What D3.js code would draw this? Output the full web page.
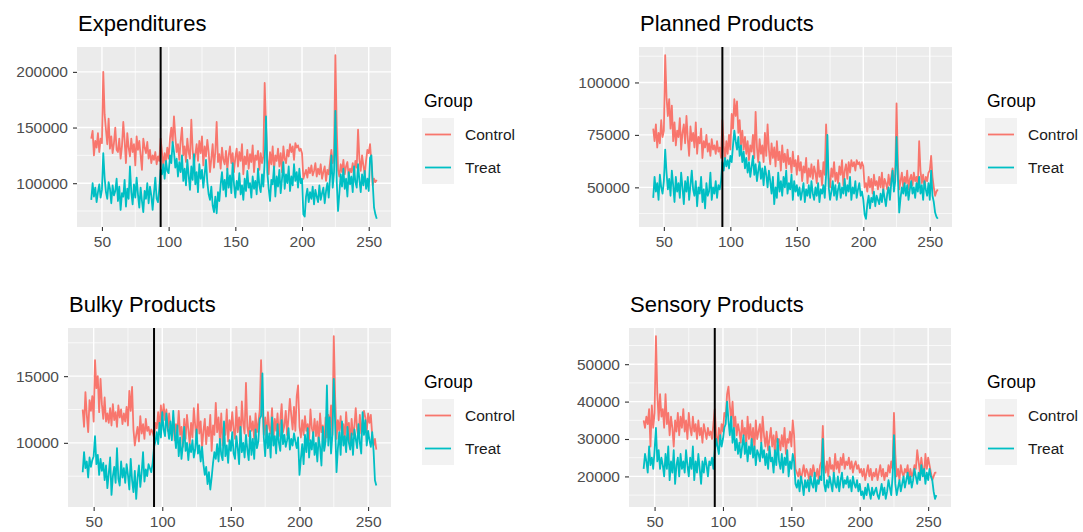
<!DOCTYPE html>
<html>
<head>
<meta charset="utf-8">
<script src="https://cdn.jsdelivr.net/npm/d3@7"></script>
<style>
    body { margin: 0; background: #fff; }
    svg text { font-family: "Liberation Sans", Arial, Helvetica, sans-serif; }
</style>
</head>
<body>
<div id="chart"></div>
<script>
// days shown on the x axis (first and last day of the series)
const firstDay = 42;
const lastDay = 256;
const interventionDay = 94;
const groups = ['Control', 'Treat'];
const groupColors = ['#F8766D', '#00BFC4'];
const xTicks = [50, 100, 150, 200, 250];

// values in thousands, one per day from day 42 to day 256
const expControl = [
    140, 147, 125, 138, 132, 145, 128, 140, 136, 200,
    162, 148, 135, 158, 131, 142, 127, 136, 150, 130,
    128, 140, 122, 133, 155, 138, 118, 145, 132, 124,
    140, 128, 135, 116, 142, 130, 138, 125, 112, 140,
    132, 127, 137, 122, 130, 118, 125, 121, 128, 117,
    124, 120, 140, 128, 115, 127, 119, 132, 122, 140,
    150, 136, 160, 142, 128, 135, 121, 138, 150, 125,
    133, 119, 140, 128, 122, 157, 130, 117, 126, 135,
    120, 138, 127, 142, 116, 133, 124, 139, 128, 110,
    122, 135, 114, 128, 155, 119, 126, 113, 132, 121,
    117, 129, 112, 125, 133, 118, 127, 110, 123, 131,
    115, 128, 120, 135, 108, 124, 117, 130, 113, 126,
    119, 134, 110, 125, 121, 129, 112, 127, 118, 124,
    190, 150, 122, 108, 128, 117, 133, 112, 125, 120,
    131, 115, 127, 110, 133, 122, 118, 130, 124, 135,
    128, 133, 121, 136, 132, 134, 129, 131, 127, 104,
    108, 112, 105, 114, 109, 116, 107, 111, 118, 106,
    113, 108, 117, 104, 110, 115, 102, 112, 108, 119,
    130, 118, 125, 215, 150, 112, 106, 117, 110, 121,
    108, 115, 119, 106, 113, 110, 118, 107, 120, 114,
    148, 122, 111, 125, 116, 108, 120, 130, 127, 135,
    118, 98, 104, 101, 103
];
const expTreat = [
    85, 100, 88, 96, 83, 92, 99, 87, 94, 127,
    105, 92, 86, 101, 95, 82, 98, 89, 93, 104,
    84, 97, 76, 91, 88, 103, 79, 95, 86, 115,
    92, 81, 99, 87, 105, 90, 78, 96, 84, 74,
    93, 86, 100, 82, 97, 89, 76, 91, 105, 86,
    83, 95, 112, 108, 117, 104, 120, 111, 109, 125,
    118, 137, 128, 114, 122, 106, 119, 110, 125, 102,
    113, 98, 121, 107, 94, 115, 103, 126, 99, 110,
    92, 117, 104, 112, 96, 108, 121, 101, 90, 85,
    97, 80, 74, 88, 73, 92, 84, 99, 110, 94,
    103, 88, 113, 96, 107, 91, 118, 99, 87, 102,
    94, 109, 90, 98, 85, 104, 93, 111, 96, 100,
    87, 106, 95, 102, 90, 113, 98, 92, 108, 97,
    120, 160, 110, 95, 84, 103, 99, 115, 88, 106,
    97, 112, 91, 104, 119, 95, 108, 100, 115, 93,
    106, 98, 117, 102, 110, 96, 113, 100, 104, 72,
    70, 88, 95, 83, 92, 86, 97, 81, 94, 88,
    83, 98, 85, 91, 96, 82, 93, 100, 87, 105,
    125, 96, 110, 165, 102, 75, 91, 108, 97, 113,
    95, 104, 88, 110, 99, 106, 92, 115, 101, 96,
    117, 103, 92, 108, 98, 111, 95, 104, 93, 123,
    125, 100, 78, 72, 68
];

const planControl = [
    78, 72, 80, 69, 76, 71, 82, 74, 77, 113,
    93, 84, 92, 78, 89, 72, 81, 70, 77, 74,
    83, 68, 76, 80, 71, 84, 73, 65, 79, 72,
    76, 69, 81, 66, 74, 71, 78, 64, 72, 69,
    75, 67, 71, 65, 73, 68, 70, 66, 72, 67,
    69, 64, 82, 70, 63, 72, 66, 75, 68, 85,
    78, 92, 84, 91, 76, 82, 70, 77, 68, 74,
    66, 72, 63, 70, 67, 75, 64, 86, 69, 62,
    73, 66, 70, 62, 76, 65, 80, 68, 61, 71,
    64, 69, 60, 72, 63, 67, 58, 70, 62, 66,
    59, 68, 61, 64, 57, 67, 60, 63, 56, 65,
    58, 62, 53, 60, 57, 64, 52, 59, 55, 61,
    54, 60, 57, 52, 63, 55, 58, 51, 62, 56,
    80, 65, 54, 50, 59, 55, 62, 53, 57, 52,
    60, 56, 63, 51, 58, 61, 54, 62, 57, 63,
    60, 62, 58, 63, 61, 62, 59, 62, 60, 50,
    52, 48, 55, 50, 54, 47, 56, 51, 53, 49,
    55, 50, 57, 48, 54, 52, 49, 56, 51, 55,
    59, 53, 56, 90, 62, 49, 53, 57, 50, 55,
    52, 58, 49, 54, 56, 51, 57, 53, 55, 50,
    72, 58, 52, 56, 50, 55, 53, 57, 58, 65,
    55, 50, 46, 48, 49
];
const planTreat = [
    45, 55, 48, 52, 44, 56, 50, 47, 53, 68,
    57, 49, 54, 46, 58, 51, 43, 55, 48, 52,
    45, 57, 50, 42, 53, 48, 55, 44, 51, 58,
    49, 46, 53, 41, 50, 47, 55, 43, 49, 40,
    52, 46, 48, 57, 44, 50, 47, 53, 45, 51,
    49, 53, 62, 58, 64, 60, 63, 59, 65, 62,
    70, 77, 72, 68, 74, 65, 70, 62, 67, 59,
    64, 57, 62, 55, 60, 65, 56, 61, 53, 58,
    62, 54, 59, 51, 60, 56, 50, 58, 53, 47,
    55, 42, 50, 45, 57, 48, 53, 46, 55, 50,
    58, 47, 52, 49, 56, 44, 53, 48, 51, 46,
    50, 44, 48, 52, 43, 49, 46, 51, 45, 53,
    47, 44, 50, 46, 52, 43, 49, 47, 51, 45,
    56, 75, 50, 44, 48, 53, 46, 51, 44, 49,
    52, 45, 50, 47, 54, 46, 51, 48, 55, 44,
    50, 47, 53, 45, 49, 52, 46, 48, 44, 37,
    35, 42, 46, 40, 45, 43, 48, 41, 46, 44,
    42, 47, 43, 49, 45, 41, 47, 50, 44, 52,
    58, 48, 53, 74, 55, 38, 45, 50, 47, 52,
    46, 51, 44, 49, 53, 47, 50, 45, 52, 48,
    55, 47, 51, 44, 53, 49, 46, 52, 44, 58,
    46, 43, 38, 36, 35
];

const bulkyControl = [
    12.5, 11.2, 13.8, 12.1, 10.8, 13.2, 12.4, 13.5, 11.6, 16.2,
    14.1, 15.0, 12.3, 14.8, 12.9, 11.8, 13.4, 11.6, 12.2, 11.5,
    12.6, 11.3, 12.9, 11.7, 12.3, 11.2, 12.8, 11.9, 12.5, 11.4,
    12.2, 11.6, 12.7, 11.3, 13.9, 12.4, 14.2, 11.0, 9.8, 10.6,
    11.2, 10.1, 12.0, 10.7, 11.4, 10.3, 11.8, 10.9, 11.2, 10.6,
    11.0, 10.8, 10.4, 11.5, 11.1, 12.3, 11.0, 12.8, 11.6, 12.9,
    11.7, 12.5, 10.9, 12.2, 11.1, 10.5, 11.9, 10.2, 11.4, 10.8,
    12.4, 10.6, 11.2, 9.7, 11.8, 10.3, 12.1, 11.0, 9.9, 11.5,
    10.4, 12.6, 11.3, 10.1, 12.9, 10.7, 11.6, 9.6, 10.9, 11.8,
    9.9, 11.2, 10.5, 12.1, 9.4, 11.3, 10.6, 13.0, 10.8, 11.9,
    10.2, 12.2, 9.8, 11.4, 10.6, 12.5, 10.1, 11.7, 10.9, 12.3,
    11.0, 10.3, 12.7, 10.8, 11.9, 10.2, 13.1, 11.4, 10.7, 14.5,
    11.2, 10.5, 12.0, 10.9, 11.6, 10.3, 12.2, 10.8, 11.5, 12.4,
    16.2, 12.8, 10.6, 11.9, 10.4, 12.3, 11.1, 10.7, 12.6, 10.2,
    11.8, 10.9, 12.2, 10.5, 11.6, 12.9, 10.8, 11.3, 12.4, 10.6,
    11.9, 13.3, 12.1, 11.0, 12.7, 10.9, 13.5, 14.3, 11.2, 10.4,
    11.7, 10.6, 12.0, 10.9, 11.4, 10.2, 12.5, 11.1, 10.7, 11.8,
    10.5, 11.6, 9.9, 12.2, 10.8, 11.3, 9.6, 11.9, 10.4, 12.1,
    11.2, 12.8, 10.6, 18.0, 13.4, 10.3, 11.7, 10.9, 12.0, 10.5,
    11.4, 10.2, 12.3, 10.8, 11.5, 9.9, 11.8, 10.6, 11.2, 12.6,
    11.0, 10.4, 12.1, 10.7, 11.6, 12.4, 11.9, 10.8, 12.2, 11.5,
    12.1, 10.6, 9.8, 10.3, 9.5
];
const bulkyTreat = [
    7.8, 9.3, 8.1, 8.6, 7.4, 8.9, 8.2, 8.7, 9.0, 10.5,
    8.4, 9.1, 7.6, 8.8, 7.9, 8.5, 7.2, 8.3, 6.6, 7.7,
    8.9, 6.1, 7.5, 8.2, 7.0, 9.6, 7.3, 6.8, 8.6, 7.4,
    8.1, 7.0, 8.4, 7.6, 6.5, 8.8, 7.2, 6.3, 7.9, 5.8,
    7.4, 8.3, 6.7, 7.8, 9.3, 7.1, 8.0, 7.5, 8.4, 8.1,
    7.8, 8.5, 9.7, 10.1, 10.8, 9.9, 11.5, 10.4, 12.3, 11.0,
    10.5, 12.2, 11.1, 10.3, 11.6, 10.2, 12.4, 10.7, 9.6, 11.3,
    9.0, 10.4, 8.8, 9.8, 11.2, 9.4, 10.0, 8.7, 9.9, 9.3,
    10.2, 8.9, 9.5, 11.0, 9.2, 9.8, 8.6, 9.7, 8.4, 7.6,
    8.2, 6.9, 7.8, 6.5, 7.4, 8.5, 9.3, 8.8, 9.9, 8.6,
    10.3, 9.1, 8.7, 11.6, 9.0, 9.8, 8.5, 10.2, 9.4, 10.8,
    9.2, 8.8, 10.5, 9.6, 8.4, 11.2, 9.3, 10.0, 8.9, 10.6,
    9.5, 8.7, 10.9, 9.1, 10.3, 8.8, 11.0, 9.6, 10.1, 11.8,
    12.0, 15.2, 10.4, 9.0, 11.3, 9.6, 10.7, 8.9, 11.9, 9.8,
    10.5, 9.2, 11.4, 10.0, 9.4, 11.7, 9.9, 10.6, 9.7, 10.2,
    11.1, 9.5, 10.3, 9.8, 10.7, 10.1, 9.6, 10.4, 7.6, 8.8,
    9.9, 8.4, 10.6, 9.3, 11.1, 8.9, 10.2, 9.5, 10.8, 9.1,
    10.0, 8.6, 10.4, 9.7, 8.3, 11.2, 9.4, 10.1, 14.3, 9.8,
    11.9, 9.2, 10.6, 14.8, 11.4, 7.8, 9.6, 10.8, 9.1, 11.6,
    9.8, 10.5, 9.3, 11.2, 10.0, 9.5, 10.7, 9.1, 11.0, 10.3,
    9.6, 11.4, 10.0, 9.2, 12.3, 10.6, 11.7, 9.8, 10.9, 10.2,
    9.7, 10.8, 9.4, 7.2, 6.8
];

const sensControl = [
    35, 33, 36, 34, 38, 28, 39, 33, 37, 57.5,
    42, 35, 42, 36, 38, 33, 42, 34, 37, 31,
    36, 33, 28, 35, 32, 37, 31, 36, 33, 38,
    32, 35, 30, 37, 33, 31, 36, 32, 34, 30,
    35, 31, 33, 29, 34, 32, 30, 33, 31, 32,
    30, 34, 38, 31, 28, 33, 30, 34, 32, 37,
    36, 42, 44, 39, 35, 40, 33, 36, 31, 34,
    32, 29, 35, 31, 33, 28, 36, 30, 34, 29,
    33, 27, 35, 30, 32, 34, 29, 36, 31, 28,
    32, 27, 30, 33, 28, 31, 26, 32, 29, 30,
    27, 31, 28, 33, 26, 30, 29, 32, 28, 35,
    31, 22, 21, 20, 22, 19, 21, 23, 20, 22,
    21, 19, 22, 20, 23, 21, 20, 22, 19, 23,
    24, 33.5, 23, 21, 24, 20, 25, 22, 23, 21,
    26, 22, 24, 21, 25, 23, 26, 22, 24, 23,
    25, 22, 24, 21, 23, 24, 22, 23, 21, 22,
    20, 22, 19, 21, 23, 20, 22, 19, 21, 20,
    22, 19, 21, 23, 20, 22, 19, 21, 20, 23,
    21, 24, 22, 37, 26, 20, 22, 19, 23, 21,
    20, 22, 21, 23, 19, 22, 20, 21, 23, 22,
    27, 24, 21, 25, 22, 20, 26, 22, 25, 23,
    21, 19, 20, 21, 21
];
const sensTreat = [
    22, 26, 24, 21, 28, 23, 25, 22, 27, 33,
    24, 27, 22, 25, 23, 20, 26, 22, 28, 19,
    24, 21, 27, 18, 23, 25, 20, 26, 22, 24,
    21, 27, 23, 20, 25, 22, 28, 19, 24, 21,
    26, 22, 18, 24, 21, 25, 23, 20, 24, 23,
    25, 22, 27, 30, 28, 26, 31, 28, 30, 33,
    34, 40, 35, 31, 36, 29, 33, 27, 30, 26,
    29, 25, 28, 31, 26, 29, 24, 28, 26, 30,
    25, 28, 23, 27, 26, 24, 29, 25, 27, 23,
    26, 22, 28, 24, 25, 21, 27, 23, 30, 24,
    22, 26, 21, 25, 23, 27, 20, 24, 22, 26,
    24, 18, 17, 19, 16, 20, 18, 15, 19, 17,
    19, 16, 20, 18, 17, 21, 16, 19, 18, 20,
    19, 30, 18, 16, 19, 17, 20, 18, 16, 21,
    18, 17, 20, 16, 19, 21, 17, 19, 18, 20,
    17, 19, 16, 20, 18, 17, 19, 16, 18, 15,
    16, 14, 17, 15, 18, 16, 14, 17, 15, 16,
    17, 15, 14, 16, 18, 15, 17, 14, 16, 19,
    17, 15, 20, 31, 18, 15, 17, 19, 16, 18,
    20, 17, 19, 21, 18, 20, 17, 19, 22, 20,
    18, 21, 19, 23, 20, 22, 18, 21, 19, 22,
    20, 19, 16, 14, 15
];

const expTicks = [100000, 150000, 200000];
const planTicks = [50000, 75000, 100000];
const bulkyTicks = [10000, 15000];
const sensTicks = [20000, 30000, 40000, 50000];

const days = d3.range(firstDay, lastDay + 1);

const panels = [
    { title: 'Expenditures', series: [expControl, expTreat], ticks: expTicks,
      x: 77, y: 47, w: 314, h: 180, legendX: 422, legendY: 0 },
    { title: 'Planned Products', series: [planControl, planTreat], ticks: planTicks,
      x: 639, y: 47, w: 313, h: 180, legendX: 985, legendY: 0 },
    { title: 'Bulky Products', series: [bulkyControl, bulkyTreat], ticks: bulkyTicks,
      x: 68, y: 328, w: 323, h: 179, legendX: 422, legendY: 281 },
    { title: 'Sensory Products', series: [sensControl, sensTreat], ticks: sensTicks,
      x: 629, y: 328, w: 322, h: 179, legendX: 985, legendY: 281 },
];

const svg = d3.select('#chart').append('svg')
    .attr('width', 1083)
    .attr('height', 532);

// ggplot-like 5% expansion on both sides
function expand(ext) {
    const pad = (ext[1] - ext[0]) * 0.05;
    return [ext[0] - pad, ext[1] + pad];
}

function drawPanel(p) {
    const data = p.series.map((vals) => vals.map((v, i) => ({ day: days[i], value: v * 1000 })));
    const all = data.flat();

    const x = d3.scaleLinear()
        .domain(expand([firstDay, lastDay]))
        .range([0, p.w]);
    const y = d3.scaleLinear()
        .domain(expand(d3.extent(all, (d) => d.value)))
        .range([p.h, 0]);

    const g = svg.append('g')
        .attr('transform', `translate(${p.x}, ${p.y})`);

    g.append('rect')
        .attr('width', p.w)
        .attr('height', p.h)
        .attr('fill', '#EBEBEB');

    // minor grid: halfway between majors
    const xStep = xTicks[1] - xTicks[0];
    const xMinor = d3.range(xTicks[0] - xStep / 2, xTicks[xTicks.length - 1] + xStep, xStep)
        .filter((d) => d > x.domain()[0] && d < x.domain()[1]);
    const yStep = p.ticks[1] - p.ticks[0];
    const yMinor = d3.range(p.ticks[0] - yStep / 2, p.ticks[p.ticks.length - 1] + yStep, yStep)
        .filter((d) => d > y.domain()[0] && d < y.domain()[1]);

    g.selectAll('.minor-x').data(xMinor).enter().append('line')
        .attr('x1', (d) => x(d)).attr('x2', (d) => x(d))
        .attr('y1', 0).attr('y2', p.h)
        .attr('stroke', '#fff').attr('stroke-width', 0.7);
    g.selectAll('.minor-y').data(yMinor).enter().append('line')
        .attr('y1', (d) => y(d)).attr('y2', (d) => y(d))
        .attr('x1', 0).attr('x2', p.w)
        .attr('stroke', '#fff').attr('stroke-width', 0.7);
    g.selectAll('.major-x').data(xTicks).enter().append('line')
        .attr('x1', (d) => x(d)).attr('x2', (d) => x(d))
        .attr('y1', 0).attr('y2', p.h)
        .attr('stroke', '#fff').attr('stroke-width', 1.4);
    g.selectAll('.major-y').data(p.ticks).enter().append('line')
        .attr('y1', (d) => y(d)).attr('y2', (d) => y(d))
        .attr('x1', 0).attr('x2', p.w)
        .attr('stroke', '#fff').attr('stroke-width', 1.4);

    const line = d3.line()
        .x((d) => x(d.day))
        .y((d) => y(d.value));

    data.forEach((s, i) => {
        g.append('path')
            .datum(s)
            .attr('d', line)
            .attr('fill', 'none')
            .attr('stroke', groupColors[i])
            .attr('stroke-width', 1.8)
            .attr('stroke-linejoin', 'round');
    });

    g.append('line')
        .attr('x1', x(interventionDay)).attr('x2', x(interventionDay))
        .attr('y1', 0).attr('y2', p.h)
        .attr('stroke', '#000')
        .attr('stroke-width', 2);

    const xAxis = g.append('g')
        .attr('transform', `translate(0, ${p.h})`)
        .call(d3.axisBottom(x).tickValues(xTicks).tickSize(4).tickPadding(5).tickFormat(d3.format('d')));
    const yAxis = g.append('g')
        .call(d3.axisLeft(y).tickValues(p.ticks).tickSize(4).tickPadding(5).tickFormat(d3.format('d')));

    [xAxis, yAxis].forEach((a) => {
        a.select('.domain').remove();
        a.selectAll('line').attr('stroke', '#333').attr('stroke-width', 1.1);
        a.selectAll('text')
            .attr('fill', '#4D4D4D')
            .style('font-size', '15.5px')
            .style('font-family', '"Liberation Sans", Arial, sans-serif');
    });

    svg.append('text')
        .attr('x', p.x + 1)
        .attr('y', p.y - 16)
        .style('font-size', '22px')
        .attr('fill', '#000')
        .text(p.title);

    // legend
    const lg = svg.append('g')
        .attr('transform', `translate(${p.legendX}, ${p.legendY})`);
    lg.append('text')
        .attr('x', 2)
        .attr('y', 107)
        .style('font-size', '17.5px')
        .attr('fill', '#000')
        .text('Group');
    groups.forEach((name, i) => {
        const top = 118 + i * 33;
        lg.append('rect')
            .attr('x', 0).attr('y', top)
            .attr('width', 32).attr('height', 33)
            .attr('fill', '#F2F2F2');
        lg.append('line')
            .attr('x1', 3).attr('x2', 29)
            .attr('y1', top + 16.5).attr('y2', top + 16.5)
            .attr('stroke', groupColors[i])
            .attr('stroke-width', 1.8);
        lg.append('text')
            .attr('x', 43)
            .attr('y', top + 22)
            .style('font-size', '15.5px')
            .attr('fill', '#1A1A1A')
            .text(name);
    });
}

panels.forEach(drawPanel);
</script>
</body>
</html>
